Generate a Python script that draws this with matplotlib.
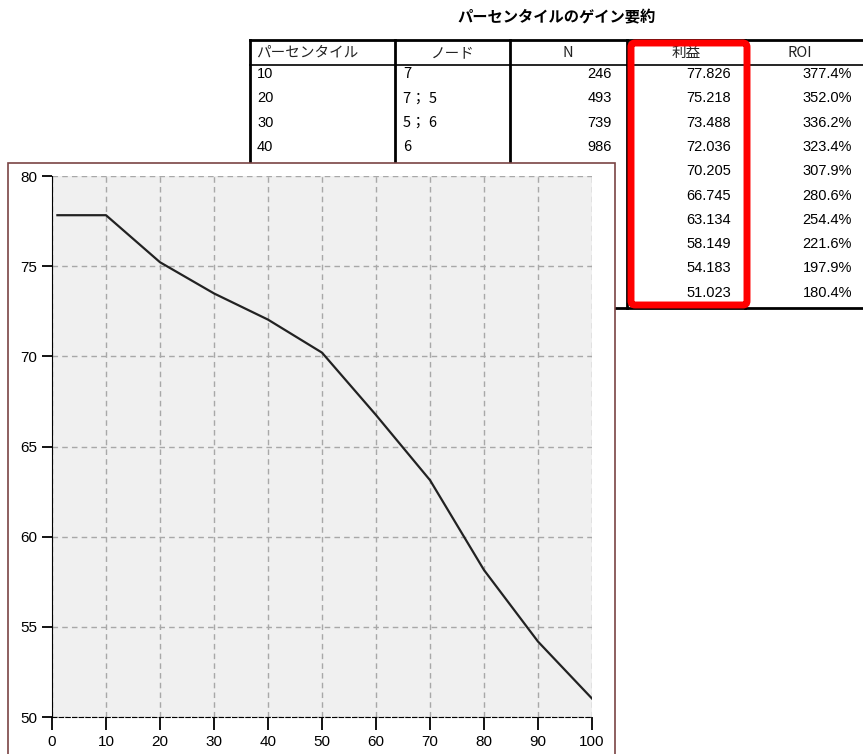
import numpy as np
import matplotlib.pyplot as plt
from matplotlib.patches import Rectangle, FancyBboxPatch

plt.rcParams['font.family'] = ['Noto Sans CJK JP', 'DejaVu Sans']

# table data
title = 'パーセンタイルのゲイン要約'
headers = ['パーセンタイル', 'ノード', 'N', '利益', 'ROI']
percentiles = [10, 20, 30, 40, 50, 60, 70, 80, 90, 100]
nodes = ['7', '7； 5', '5； 6', '6']          # rows 50-100 hidden behind the chart
counts = [246, 493, 739, 986]
profit = [77.826, 75.218, 73.488, 72.036, 70.205, 66.745, 63.134, 58.149, 54.183, 51.023]
roi = [377.4, 352.0, 336.2, 323.4, 307.9, 280.6, 254.4, 221.6, 197.9, 180.4]

# gain curve
curve_x = [1] + percentiles
curve_y = [profit[0]] + profit

W, H = 863, 754
fig = plt.figure(figsize=(W / 100, H / 100), dpi=100)

# background layer in pixel coordinates
bg = fig.add_axes([0, 0, 1, 1])
bg.set_xlim(0, W)
bg.set_ylim(H, 0)
bg.axis('off')

bg.text(557, 17, title, ha='center', va='center', fontsize=11, fontweight='bold')

col_edges = [250, 395, 510, 627, 745, 870]
top, head, bottom = 40, 65, 308
bg.plot([250, W], [top, top], color='black', lw=2)
bg.plot([250, W], [head, head], color='black', lw=1.2)
bg.plot([250, W], [bottom, bottom], color='black', lw=2)
for x in col_edges[:-1]:
    bg.plot([x, x], [top, bottom], color='black', lw=2)

head_x = [256, 453, 568, 686, 800]
head_ha = ['left', 'center', 'center', 'center', 'center']
for txt, x, ha in zip(headers, head_x, head_ha):
    bg.text(x, 53, txt, ha=ha, va='center', fontsize=10.5, color='#222222')

cell_font = ['Liberation Sans Narrow', 'Liberation Sans', 'DejaVu Sans']
row_y = 74 + 24.3 * np.arange(len(percentiles))
for i, y in enumerate(row_y):
    bg.text(257, y, str(percentiles[i]), ha='left', va='center', fontsize=10.5, family=cell_font)
    if i < len(nodes):
        bg.text(403, y, nodes[i], ha='left', va='center', fontsize=10.5)
        bg.text(612, y, str(counts[i]), ha='right', va='center', fontsize=10.5, family=cell_font)
    bg.text(731, y, f'{profit[i]:.3f}', ha='right', va='center', fontsize=10.5, family=cell_font)
    bg.text(852, y, f'{roi[i]:.1f}%', ha='right', va='center', fontsize=10.5, family=cell_font)

# red highlight box
bg.add_patch(FancyBboxPatch((631, 43), 116, 262, boxstyle='round,pad=0,rounding_size=4',
                            fill=False, edgecolor='#ff0000', lw=5, zorder=5))

# chart panel
bg.add_patch(Rectangle((8, 163), 607, 600, facecolor='white', edgecolor='#7a4444',
                       lw=1.2, zorder=6))

ax = fig.add_axes([52 / W, (H - 717) / H, 540 / W, 541 / H])
ax.set_zorder(10)
ax.set_facecolor('#f0f0f0')
ax.plot(curve_x, curve_y, color='#222222', lw=1.6)
ax.set_xlim(0, 100)
ax.set_ylim(50, 80)
ax.set_xticks(np.arange(0, 101, 10))
ax.set_yticks(np.arange(50, 81, 5))
ax.grid(True, color='#a8a8a8', linestyle=(0, (4, 3)), lw=1)
ax.spines['top'].set_visible(False)
ax.spines['right'].set_visible(False)
ax.spines['left'].set_color('black')
ax.spines['bottom'].set_linestyle((0, (4, 2)))
ax.tick_params(direction='out', length=7, width=1.3, labelsize=11, colors='black')
ax.tick_params(axis='x', length=9, pad=4)
for lab in ax.get_xticklabels() + ax.get_yticklabels():
    lab.set_family(['Liberation Sans', 'DejaVu Sans'])

fig.savefig('out.png', dpi=100)
